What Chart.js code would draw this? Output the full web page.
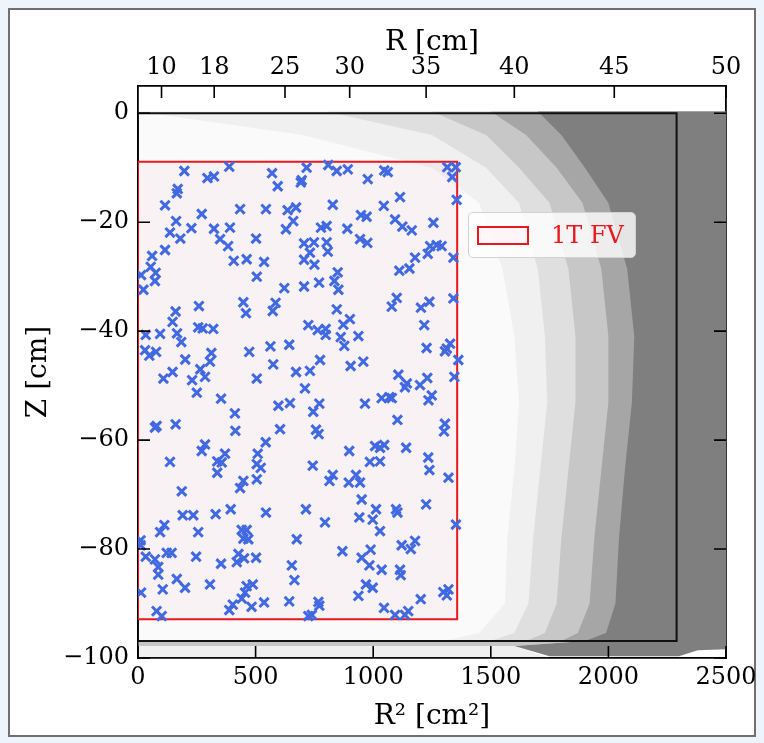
<!DOCTYPE html>
<html>
<head>
<meta charset="utf-8">
<title>1T FV events</title>
<script src="https://cdn.jsdelivr.net/npm/chart.js@4.4.1/dist/chart.umd.min.js"></script>
<style>
  html, body { margin: 0; padding: 0; background: #eef4fb; }
  #frame { position: absolute; left: 8px; top: 8px; width: 744px; height: 725px; border: 2px solid #707070; background: #fff; }
  #plot { position: absolute; left: 0; top: 0; }
  #legend { position: absolute; left: 468px; top: 212px; width: 168px; height: 46px; box-sizing: border-box;
            background: rgba(255,255,255,0.8); border: 1px solid #d2d2d2; border-radius: 5px;
            display: flex; align-items: center; font-family: 'DejaVu Serif', serif; font-size: 24px; color: #e8181e; }
  #legend .swatch { width: 52px; height: 19px; box-sizing: border-box; border: 2px solid #e8181e;
                    background: rgba(255,240,245,0.6); margin: 0 22px 0 8px; }
</style>
</head>
<body>
<div id="frame"></div>
<canvas id="plot" width="764" height="743"></canvas>
<div id="legend"></div>
<script>
const FONT = "'DejaVu Serif', serif";
const INK = '#000';
const RED = '#e8181e';
const BLUE = '#4169e1';

/* axes */
const r2Ticks = [0, 500, 1000, 1500, 2000, 2500];
const rTicks = [10, 18, 25, 30, 35, 40, 45, 50];   // top axis, R [cm]
const zTicks = [0, -20, -40, -60, -80, -100];

/* boxes: [R^2, Z] */
const fvLabel = '1T FV';
const fvBox = [[0, -8.9], [1357, -8.9], [1357, -92.9], [0, -92.9], [0, -8.9]];
const tpcBox = [[0, 0], [2290, 0], [2290, -96.9], [0, -96.9], [0, 0]];

/* background events: where the gray dot cloud reaches each density level, per Z row */
const cloudZ     = [0.3,  -4,  -10, -16.5, -28.6, -41,  -53,  -65.5, -78,  -90,  -95.4, -96.9];
const edgeSparse = [0,    700, 1250, 1450, 1550, 1600, 1620, 1600, 1570, 1560, 1450, 1300];
const edgeLight  = [800,  1250, 1480, 1620, 1700, 1730, 1740, 1710, 1680, 1660, 1600, 1500];
const edgeMid    = [1250, 1480, 1620, 1750, 1830, 1860, 1860, 1830, 1800, 1780, 1730, 1650];
const edgeDense  = [1500, 1650, 1780, 1890, 1970, 2000, 2000, 1970, 1940, 1920, 1870, 1800];
const edgeSolid  = [1700, 1800, 1900, 2000, 2080, 2110, 2100, 2070, 2045, 2030, 1990, 1900];
// below the TPC box the cloud runs along the bottom edge
const solidTail  = [[1600, -97.8], [1750, -99.7], [2300, -99.7], [2380, -98.6], [2500, -98.4]];
const bottomBand = [[0, -96.9], [1900, -96.9], [1600, -97.8], [0, -97.8]];
const bottomHaze = [[0, -97.8], [1600, -97.8], [1750, -100], [0, -100]];
// thin scatter of events over the whole inner volume
const innerHaze  = [[0, 0.3], [2290, 0.3], [2290, -96.9], [0, -96.9]];

/* selected events: [R^2 cm^2, Z cm] */
const events = [
  [197,-10.6],[295,-11.9],[323,-11.6],[388,-9.8],[570,-11.0],[594,-13.4],[169,-13.9],[165,-14.7],[115,-16.9],
  [271,-18.5],[434,-17.6],[544,-17.6],[636,-17.8],[672,-17.3],[660,-19.8],[629,-21.3],[162,-19.8],[227,-21.1],
  [323,-21.2],[391,-21.0],[136,-21.9],[180,-23.0],[349,-23.1],[383,-24.4],[502,-23.0],[115,-25.1],[60,-26.2],
  [54,-28.2],[75,-29.3],[72,-30.8],[13,-29.7],[23,-32.4],[407,-27.1],[462,-26.8],[536,-27.3],[505,-30.0],
  [622,-32.1],[448,-34.7],[459,-36.7],[585,-34.8],[573,-36.3],[259,-35.4],[160,-36.4],[147,-38.3],[166,-40.4],
  [184,-42.0],[256,-39.3],[275,-39.5],[320,-39.6],[94,-40.5],[33,-40.7],[30,-43.5],[48,-44.5],[77,-43.8],
  [201,-45.2],[312,-44.0],[306,-45.6],[473,-43.8],[563,-42.8],[643,-42.5],[575,-46.1],[672,-47.5],[147,-47.5],
  [108,-48.7],[265,-47.0],[285,-48.4],[230,-49.0],[505,-48.7],[250,-51.3],
  [717,-10.0],[809,-9.5],[845,-10.6],[892,-10.3],[1047,-10.5],[1062,-10.8],[977,-12.1],[696,-12.3],[692,-12.7],
  [1315,-9.9],[1351,-9.9],[1336,-11.7],[1355,-15.9],[1114,-15.4],[1045,-17.0],[828,-16.8],[948,-18.7],[972,-19.0],
  [1093,-19.5],[1124,-20.8],[1164,-21.5],[1256,-20.1],[778,-21.0],[802,-20.7],[890,-21.2],[944,-23.1],[975,-23.8],
  [706,-23.9],[748,-23.7],[802,-23.7],[807,-25.4],[731,-25.6],[706,-26.9],[750,-27.8],[1242,-24.4],[1270,-24.2],
  [1291,-24.4],[1232,-25.8],[1178,-26.5],[1341,-26.5],[1111,-28.9],[1154,-28.5],[849,-29.2],[835,-30.8],[852,-32.4],
  [770,-31.1],[706,-31.8],[1341,-34.0],[1100,-33.9],[1079,-35.5],[1239,-34.6],[1203,-35.7],[845,-36.0],[1217,-38.9],
  [724,-38.9],[764,-39.8],[798,-39.6],[798,-40.7],[873,-38.8],[901,-37.8],[862,-41.1],[937,-40.9],[877,-42.7],
  [1227,-43.1],[1305,-43.7],[1327,-42.3],[1313,-43.2],[1362,-45.3],[774,-45.3],[904,-46.4],[958,-45.6],[731,-47.3],
  [1107,-48.0],[1143,-49.6],[1135,-50.3],[1199,-49.9],[1230,-48.6],[1345,-48.4],[710,-50.5],
  [353,-52.4],[412,-55.1],[597,-53.7],[646,-53.2],[79,-57.4],[72,-57.7],[160,-57.1],[414,-58.3],[604,-58.0],
  [285,-60.8],[271,-62.0],[370,-62.5],[136,-64.0],[337,-63.9],[356,-64.1],[337,-66.0],[543,-60.4],[509,-62.5],
  [505,-64.4],[522,-65.1],[505,-67.2],[448,-67.5],[434,-68.8],[186,-69.4],[190,-73.8],[235,-73.8],[330,-73.6],
  [394,-72.7],[544,-73.3],[112,-75.6],[94,-76.9],[256,-76.9],[441,-76.5],[462,-76.5],[448,-78.1],[469,-78.2],
  [11,-78.4],[11,-79.3],[122,-80.7],[143,-80.7],[33,-81.4],[72,-81.9],[86,-83.3],[86,-84.7],[247,-81.4],
  [353,-82.7],[427,-80.9],[420,-82.4],[451,-81.7],[502,-81.6],[165,-85.5],[200,-87.1],[306,-86.5],[105,-87.4],
  [13,-88.0],[462,-86.8],[488,-86.5],[455,-88.0],[441,-89.1],[403,-90.2],[388,-91.2],[483,-90.6],[536,-89.8],
  [643,-89.6],[654,-83.0],[665,-85.7],[675,-78.2],[79,-91.4],[101,-92.3],
  [771,-53.3],[745,-54.8],[757,-58.1],[768,-58.9],[965,-53.3],[1036,-52.3],[1069,-52.1],[1079,-52.3],[1249,-51.8],
  [1235,-52.7],[1103,-56.3],[1305,-57.0],[1301,-58.4],[898,-62.0],[1008,-61.1],[1047,-60.9],[1029,-61.4],[1140,-61.4],
  [986,-64.0],[1029,-63.9],[1234,-63.2],[1239,-65.5],[743,-64.7],[828,-66.4],[814,-67.5],[927,-66.4],[896,-67.8],
  [944,-67.8],[1320,-66.9],[951,-70.9],[1012,-72.7],[1097,-72.7],[1103,-73.3],[1225,-71.8],[714,-72.7],[941,-74.2],
  [998,-74.6],[795,-75.1],[1029,-76.7],[1352,-75.5],[869,-80.4],[989,-80.1],[1121,-79.3],[1160,-80.0],[1178,-78.5],
  [951,-81.6],[984,-83.0],[1036,-83.8],[1114,-83.8],[1117,-84.8],[969,-86.5],[998,-87.1],[937,-88.6],[767,-89.7],
  [771,-90.4],[739,-92.1],[724,-92.3],[1046,-90.8],[1093,-92.1],[1135,-92.1],[1149,-91.4],[1202,-89.2],[1298,-87.9],
  [1320,-87.4],[1313,-88.5]
];

const toXY = pts => pts.map(([x, y]) => ({ x, y }));

// region right of an edge curve, out to R^2 = 2500
function cloudPolygon(edge, tail) {
  const pts = edge.map((x, i) => [x, cloudZ[i]]);
  return pts.concat(tail || [[2500, -96.9]], [[2500, cloudZ[0]]]);
}

// polygon drawn as a closed, filled line
function zone(label, pts, color, order) {
  return {
    label, type: 'scatter', showLine: true, data: toXY(pts),
    fill: 'shape', backgroundColor: color, borderColor: 'transparent', borderWidth: 0,
    pointRadius: 0, pointHitRadius: 0, order, xAxisID: 'x', yAxisID: 'y'
  };
}

function outline(label, pts, color, width, fillColor, order) {
  return {
    label, type: 'scatter', showLine: true, data: toXY(pts),
    fill: fillColor ? 'shape' : false, backgroundColor: fillColor || 'transparent',
    borderColor: color, borderWidth: width, borderJoinStyle: 'miter',
    pointRadius: 0, pointHitRadius: 0, order, xAxisID: 'x', yAxisID: 'y'
  };
}

const tickFont = { family: FONT, size: 24 };
const titleFont = { family: FONT, size: 28 };
const minus = v => (v < 0 ? '\u2212' + Math.abs(v) : String(v));

/* matplotlib style: ticks pointing into the frame on all four sides */
const innerTicks = {
  id: 'innerTicks',
  afterDraw(chart) {
    const { ctx, chartArea: a, scales } = chart;
    const len = 12;
    ctx.save();
    ctx.strokeStyle = INK;
    ctx.lineWidth = 1.6;
    ctx.beginPath();
    scales.x.ticks.forEach(t => { const p = scales.x.getPixelForValue(t.value); ctx.moveTo(p, a.bottom); ctx.lineTo(p, a.bottom - len); });
    scales.x2.ticks.forEach(t => { const p = scales.x2.getPixelForValue(t.value); ctx.moveTo(p, a.top); ctx.lineTo(p, a.top + len); });
    scales.y.ticks.forEach(t => { const p = scales.y.getPixelForValue(t.value); ctx.moveTo(a.left, p); ctx.lineTo(a.left + len, p); });
    scales.y2.ticks.forEach(t => { const p = scales.y2.getPixelForValue(t.value); ctx.moveTo(a.right, p); ctx.lineTo(a.right - len, p); });
    ctx.stroke();
    ctx.restore();
  }
};

const frameBorder = { display: true, color: INK, width: 1.8 };
const noGrid = { display: false, drawTicks: false };
const GRAY = 'rgba(127,127,127,';

const chart = new Chart(document.getElementById('plot'), {
  type: 'scatter',
  data: {
    datasets: [
      {
        label: 'events', type: 'scatter', data: toXY(events),
        pointStyle: 'crossRot', pointRadius: 6.5, borderWidth: 3,
        borderColor: BLUE, backgroundColor: BLUE, order: 0, xAxisID: 'x', yAxisID: 'y'
      },
      outline(fvLabel, fvBox, RED, 2, 'rgba(240,170,195,0.10)', 1),
      outline('TPC', tpcBox, '#111', 2, null, 2),
      zone('bottom band', bottomBand, GRAY + '0.45)', 3),
      zone('bottom haze', bottomHaze, GRAY + '0.12)', 4),
      zone('solid', cloudPolygon(edgeSolid, solidTail), '#7f7f7f', 5),
      zone('dense', cloudPolygon(edgeDense), GRAY + '0.45)', 6),
      zone('mid', cloudPolygon(edgeMid), GRAY + '0.25)', 7),
      zone('light', cloudPolygon(edgeLight), GRAY + '0.15)', 8),
      zone('sparse', cloudPolygon(edgeSparse), GRAY + '0.08)', 9),
      zone('inner haze', innerHaze, GRAY + '0.04)', 10)
    ]
  },
  options: {
    responsive: false,
    animation: false,
    events: [],
    layout: { padding: 0 },
    plugins: { legend: { display: false }, tooltip: { enabled: false } },
    scales: {
      x: {
        type: 'linear', position: 'bottom', min: 0, max: 2500, z: 1,
        afterBuildTicks: s => { s.ticks = r2Ticks.map(v => ({ value: v })); },
        afterFit: s => { s.height = 85; },
        grid: noGrid, border: frameBorder,
        ticks: { color: INK, font: tickFont, padding: 5, autoSkip: false, maxRotation: 0, callback: v => String(v) },
        title: { display: true, text: 'R\u00b2 [cm\u00b2]', color: INK, font: titleFont, padding: { top: 0, bottom: 9 } }
      },
      x2: {
        type: 'linear', position: 'top', min: 0, max: 2500, z: 1,
        afterBuildTicks: s => { s.ticks = rTicks.map(r => ({ value: r * r })); },
        afterFit: s => { s.height = 86; },
        grid: noGrid, border: frameBorder,
        ticks: { color: INK, font: tickFont, padding: 4, autoSkip: false, maxRotation: 0,
                 callback: (v, i) => String(rTicks[i]) },
        title: { display: true, text: 'R [cm]', color: INK, font: titleFont, padding: { top: 26, bottom: 0 } }
      },
      y: {
        type: 'linear', position: 'left', min: -100, max: 5, z: 1,
        afterBuildTicks: s => { s.ticks = zTicks.map(v => ({ value: v })); },
        afterFit: s => { s.width = 138; },
        grid: noGrid, border: frameBorder,
        ticks: { color: INK, font: tickFont, padding: 9, autoSkip: false, callback: v => minus(v) },
        title: { display: true, text: 'Z [cm]', color: INK, font: titleFont, padding: { top: 22, bottom: 0 } }
      },
      y2: {
        type: 'linear', position: 'right', min: -100, max: 5, z: 1,
        afterBuildTicks: s => { s.ticks = zTicks.map(v => ({ value: v })); },
        afterFit: s => { s.width = 38; },
        grid: noGrid, border: frameBorder,
        ticks: { display: false }
      }
    }
  },
  plugins: [innerTicks]
});

/* legend for the fiducial volume box */
const fv = chart.data.datasets.find(d => d.label === fvLabel);
const legend = document.getElementById('legend');
const swatch = document.createElement('span');
swatch.className = 'swatch';
swatch.style.borderColor = fv.borderColor;
const text = document.createElement('span');
text.textContent = fv.label;
legend.append(swatch, text);
</script>
</body>
</html>
